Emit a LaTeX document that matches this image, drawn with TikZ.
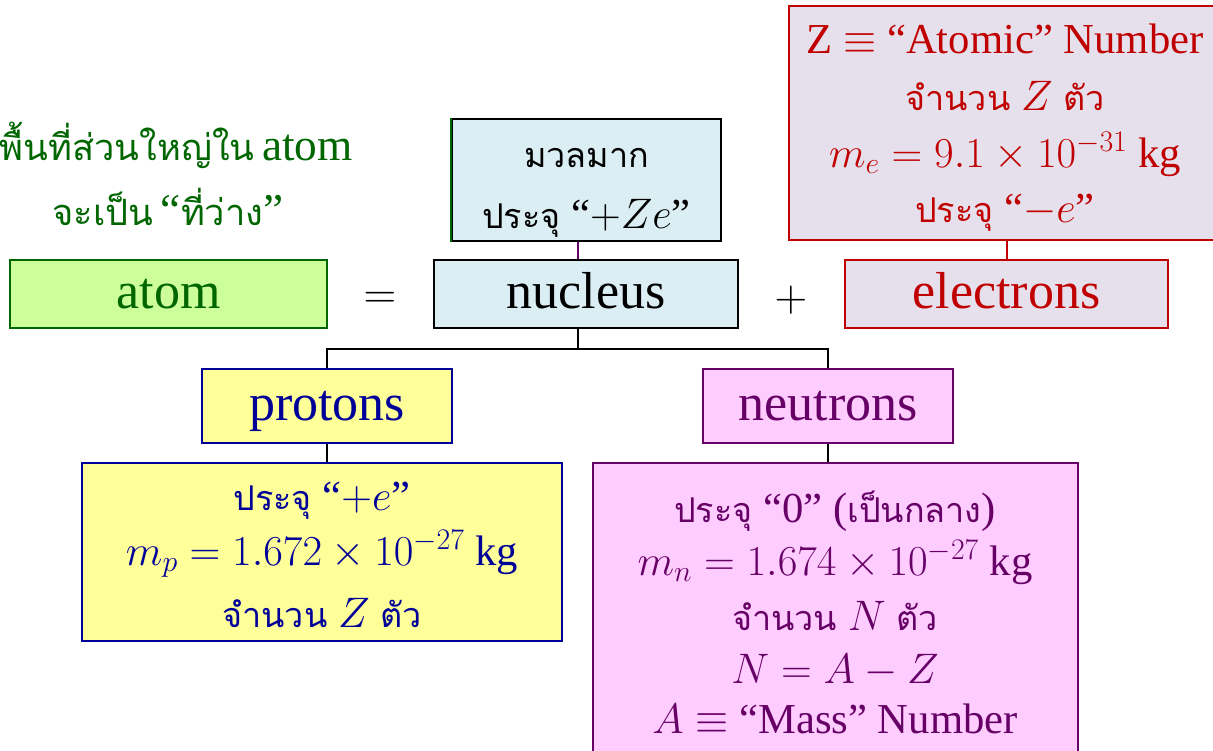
\RequirePackage{fix-cm}
\documentclass[tikz,border=0pt]{standalone}
\usepackage{fontspec}
\setmainfont{Liberation Serif}
\newfontfamily\thai[Script=Thai,Scale=0.8]{Loma}
\usetikzlibrary{calc}
\definecolor{dgreen}{HTML}{006600}
\definecolor{lgreen}{HTML}{CCFF99}
\definecolor{lblue}{HTML}{DAEEF3}
\definecolor{lav}{HTML}{E6E0EC}
\definecolor{dred}{HTML}{C00000}
\definecolor{yel}{HTML}{FFFF99}
\definecolor{dblue}{HTML}{000099}
\definecolor{pink}{HTML}{FFCCFF}
\definecolor{purp}{HTML}{660066}
\begin{document}
\begin{tikzpicture}[x=0.75pt,y=-0.75pt,
  frame/.style={draw=#1, line width=1.5pt, inner sep=0pt},
  big/.style={font=\fontsize{39}{45}\selectfont, text height=27pt, text depth=6pt},
  txt/.style={anchor=base, inner sep=0pt, font=\fontsize{32}{38}\selectfont},
  conn/.style={line width=1.5pt}]
\useasboundingbox (0,0) rectangle (1213,750);
\clip (0,0) rectangle (1213,750);

% green note
\node[txt, anchor=base east, text=dgreen, font=\fontsize{34}{40}\selectfont] (g1) at (353,160) {{\thai พื้นที่ส่วนใหญ่ใน}\,atom};
\node[txt, text=dgreen, font=\fontsize{34}{40}\selectfont] (g2) at (168,225) {{\thai จะเป็น}\,“{\thai ที่ว่าง}”};

% main row
\node[frame=dgreen, fill=lgreen, minimum width=317*0.75pt, minimum height=68*0.75pt, big, text=dgreen] (atom) at (168.5,294) {atom};
\node[big, font=\fontsize{34}{40}\selectfont] (eq) at (380,294) {$=$};
\node[frame=black, fill=lblue, minimum width=304*0.75pt, minimum height=68*0.75pt, big] (nucleus) at (586,294) {nucleus};
\node[big, font=\fontsize{34}{40}\selectfont] (plus) at (791,297) {$+$};
\node[frame=dred, fill=lav, minimum width=323*0.75pt, minimum height=68*0.75pt, big, text=dred] (electrons) at (1006.5,294) {electrons};

% nucleus info
\node[frame=black, fill=lblue, minimum width=269*0.75pt, minimum height=122*0.75pt] (mass) at (586.5,180) {};
\draw[dgreen, line width=1.5pt] (mass.north west) -- (mass.south west);
\node[txt] (m1) at (586.5,167) {\thai มวลมาก};
\node[txt] (m2) at (586.5,228) {{\thai ประจุ} “$+Ze$”};
\draw[conn, purp] ([xshift=-6.4pt]mass.south) -- ([xshift=-6.4pt]mass.south |- nucleus.north);

% electron info
\node[frame=dred, fill=lav, minimum width=434*0.75pt, minimum height=234*0.75pt] (einfo) at (1006,123) {};
\node[txt, text=dred] (e1) at (1005,53) {Z $\equiv$ “Atomic” Number};
\node[txt, text=dred] (e2) at (1005,110) {{\thai จำนวน} $Z$ {\thai ตัว}};
\node[txt, text=dred] (e3) at (1005,167) {$m_e = 9.1\times10^{-31}$ kg};
\node[txt, text=dred] (e4) at (1005,222) {{\thai ประจุ} “$-e$”};
\draw[conn, dred] (electrons.north) -- (electrons.north |- einfo.south);

% particles
\node[frame=dblue, fill=yel, minimum width=250*0.75pt, minimum height=74*0.75pt, big, text=dblue] (protons) at (327,406) {protons};
\node[frame=purp, fill=pink, minimum width=250*0.75pt, minimum height=74*0.75pt, big, text=purp] (neutrons) at (828,406) {neutrons};
\coordinate (fork) at (578,349);
\draw[conn] ([xshift=-6pt]nucleus.south) -- ([xshift=-6pt]nucleus.south |- fork);
\draw[conn] (protons.north) -- (protons.north |- fork) -- (neutrons.north |- fork) -- (neutrons.north);

% proton info
\node[frame=dblue, fill=yel, minimum width=480*0.75pt, minimum height=178*0.75pt] (pinfo) at (322,552) {};
\node[txt, text=dblue] (p1) at (322,510) {{\thai ประจุ} “$+e$”};
\node[txt, text=dblue] (p2) at (322,565) {$m_p = 1.672\times10^{-27}$ kg};
\node[txt, text=dblue] (p3) at (322,627) {{\thai จำนวน} $Z$ {\thai ตัว}};
\draw[conn] (protons.south) -- (protons.south |- pinfo.north);

% neutron info
\node[frame=purp, fill=pink, minimum width=485*0.75pt, minimum height=312*0.75pt] (ninfo) at (835.5,619) {};
\node[txt, text=purp] (n1) at (835,522) {{\thai ประจุ} “0” ({\thai เป็นกลาง})};
\node[txt, text=purp] (n2) at (835,575) {$m_n = 1.674\times10^{-27}$ kg};
\node[txt, text=purp] (n3) at (835,630) {{\thai จำนวน} $N$ {\thai ตัว}};
\node[txt, text=purp] (n4) at (835,683) {$N = A - Z$};
\node[txt, text=purp] (n5) at (835,733) {$A \equiv$ “Mass” Number};
\draw[conn] (neutrons.south) -- (neutrons.south |- ninfo.north);
\end{tikzpicture}
\end{document}
